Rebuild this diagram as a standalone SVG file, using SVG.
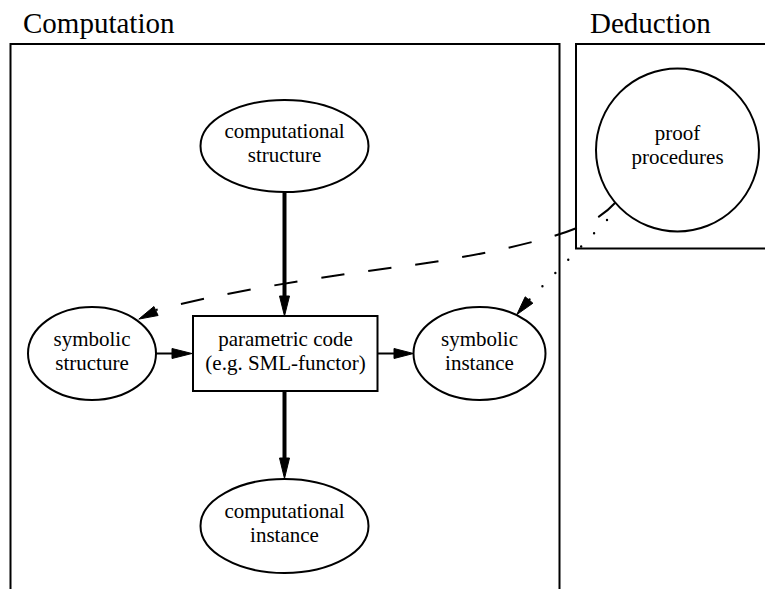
<svg xmlns="http://www.w3.org/2000/svg" width="765" height="589" viewBox="0 0 765 589">
<style>
.frame{fill:none;stroke:#000;stroke-width:2}
.node{fill:#fff;stroke:#000;stroke-width:2}
.lbl{font-family:"Liberation Serif","Times New Roman",serif;font-size:21px;fill:#000;text-anchor:middle}
.title{font-family:"Liberation Serif","Times New Roman",serif;font-size:29px;fill:#000}
.thick{fill:none;stroke:#000;stroke-width:4}
.thin{fill:none;stroke:#000;stroke-width:2}
.dash{fill:none;stroke:#000;stroke-width:2;stroke-dasharray:23.5 24}
.dot{fill:none;stroke:#000;stroke-width:2.4;stroke-linecap:round;stroke-dasharray:0 18.5}
.head{fill:#000;stroke:#000;stroke-width:1}
</style>
<rect width="765" height="589" fill="#fff"/>
<g id="frame-computation">
<path class="frame" d="M10.5,600 V44 H559.5 V600"/>
<text class="title" x="23" y="33">Computation</text>
</g>
<g id="frame-deduction">
<path class="frame" d="M770,44 H576 V248.5 H770"/>
<text class="title" x="590" y="33">Deduction</text>
</g>
<g id="connectors">
<path class="thick" d="M284.5,193 V297"/>
<polygon class="head" points="279.5,296 289.5,296 284.5,316"/>
<path class="thick" d="M284.5,391 V459"/>
<polygon class="head" points="279.5,458 289.5,458 284.5,478.5"/>
<path class="thin" d="M156,353.5 H173"/>
<polygon class="head" points="172,348.5 172,358.5 192,353.5"/>
<path class="thin" d="M378,353.5 H395"/>
<polygon class="head" points="394,348.5 394,358.5 413.5,353.5"/>
<path class="dash" d="M616,202 C604,215 590,225 554,236 C520,246 470,257 413,265 C360,272 250,286 156,310"/>
<polygon class="head" points="138.8,319.1 153.9,306.5 158.1,315.5"/>
<path class="dot" d="M607,220 L529,300"/>
<polygon class="head" points="516.8,314.6 525.2,296.8 532.9,303.2"/>
</g>
<g id="node-computational-structure">
<ellipse class="node" cx="284.5" cy="146" rx="84" ry="46"/>
<text class="lbl" x="284.5" y="138">computational</text>
<text class="lbl" x="284.5" y="162">structure</text>
</g>
<g id="node-symbolic-structure">
<ellipse class="node" cx="92" cy="353.5" rx="64" ry="46.5"/>
<text class="lbl" x="92" y="346">symbolic</text>
<text class="lbl" x="92" y="370">structure</text>
</g>
<g id="node-parametric-code">
<rect class="node" x="193" y="316" width="184.5" height="75"/>
<text class="lbl" x="285.5" y="346">parametric code</text>
<text class="lbl" x="285.5" y="370">(e.g. SML-functor)</text>
</g>
<g id="node-symbolic-instance">
<ellipse class="node" cx="479.5" cy="353.5" rx="66" ry="46.5"/>
<text class="lbl" x="479.5" y="346">symbolic</text>
<text class="lbl" x="479.5" y="370">instance</text>
</g>
<g id="node-computational-instance">
<ellipse class="node" cx="284.5" cy="526" rx="84" ry="47"/>
<text class="lbl" x="284.5" y="518">computational</text>
<text class="lbl" x="284.5" y="542">instance</text>
</g>
<g id="node-proof-procedures">
<circle class="node" cx="677.5" cy="150" r="81.5"/>
<text class="lbl" x="677.5" y="140">proof</text>
<text class="lbl" x="677.5" y="164">procedures</text>
</g>
</svg>
